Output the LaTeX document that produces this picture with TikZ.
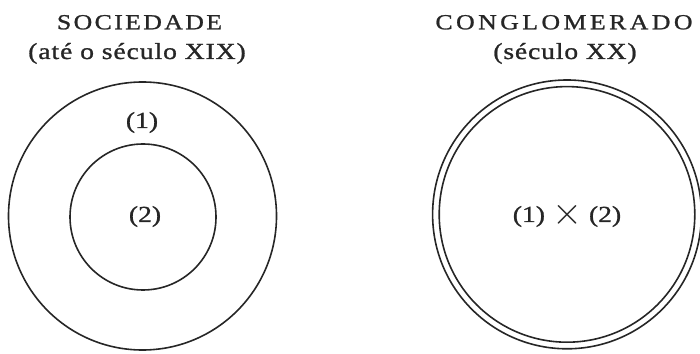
\documentclass[tikz,border=0pt]{standalone}
\usepackage{fontspec}
\setmainfont{Liberation Serif}[FakeStretch=1.2, FakeBold=1.1]
\newcommand{\trk}[1]{\addfontfeature{LetterSpace=#1}}
\newcommand{\bigtimes}{\raisebox{-3pt}{\scalebox{1.55}{$\times$}}}
\begin{document}
\begin{tikzpicture}[x=1pt,y=1pt,
  ring/.style={draw=black!85, line width=1.6pt},
  ttl/.style={anchor=base, inner sep=0pt, text=black!85, font=\fontsize{21.5}{21.5}\selectfont},
  sub/.style={anchor=base, inner sep=0pt, text=black!85, font=\fontsize{23}{23}\selectfont},
  lbl/.style={anchor=base, inner sep=0pt, text=black!85, font=\fontsize{23}{23}\selectfont}]
\useasboundingbox (0,0) rectangle (700,353);
% left diagram
\node[ttl] (t1) at (139.5,323.7) {\trk{11}SOCIEDADE};
\node[sub] (s1) at (137,294) {\trk{4}(até o século XIX)};
\draw[ring] (142.5,137) circle[radius=134];
\draw[ring] (143,136) circle[radius=73];
\node[lbl] (n1) at (142,225) {(1)};
\node[lbl] (n2) at (145,131) {(2)};
% right diagram
\node[ttl] (t2) at (564,323.7) {\trk{16}CONGLOMERADO};
\node[sub] (s2) at (565,294) {\trk{3.7}(século XX)};
\draw[ring] (567,138.6) circle[radius=134.4];
\draw[ring] (567,138.6) circle[radius=127.8];
\node[lbl] (n3) at (567,131) {(1)\hspace{7pt}\bigtimes\hspace{7pt}(2)};
\end{tikzpicture}
\end{document}
